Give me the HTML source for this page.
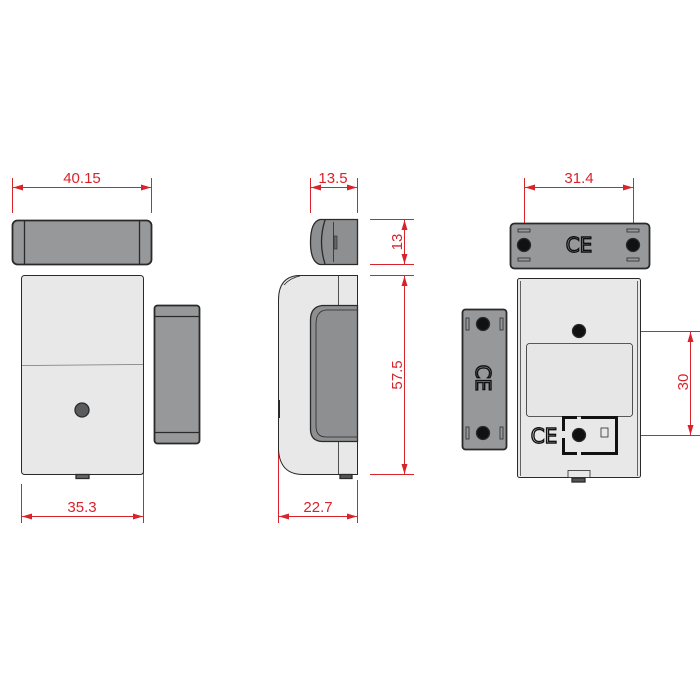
<!DOCTYPE html>
<html><head><style>html,body{margin:0;padding:0;background:#fff}svg{display:block}</style></head>
<body>
<svg width="700" height="700" viewBox="0 0 700 700" xmlns="http://www.w3.org/2000/svg">
<defs>
<marker id="a" viewBox="0 0 10 6" refX="10" refY="3" markerWidth="12" markerHeight="6" markerUnits="userSpaceOnUse" orient="auto-start-reverse"><path d="M0,0L10,3L0,6z" fill="#d9232b"/></marker>
</defs>
<g stroke="#d9232b" stroke-width="1" fill="none">
<line x1="12.5" y1="178" x2="12.5" y2="213"/><line x1="151.5" y1="178" x2="151.5" y2="213"/>
<line x1="13" y1="187.5" x2="151" y2="187.5" marker-start="url(#a)" marker-end="url(#a)"/>
<line x1="21.5" y1="484" x2="21.5" y2="523"/><line x1="143.5" y1="450" x2="143.5" y2="523"/>
<line x1="22" y1="516.5" x2="143" y2="516.5" marker-start="url(#a)" marker-end="url(#a)"/>
<line x1="310.5" y1="178" x2="310.5" y2="213"/><line x1="357.5" y1="178" x2="357.5" y2="213"/>
<line x1="311" y1="187.5" x2="357" y2="187.5" marker-start="url(#a)" marker-end="url(#a)"/>
<line x1="370" y1="219.5" x2="414" y2="219.5"/><line x1="370" y1="264.5" x2="414" y2="264.5"/>
<line x1="404.5" y1="220" x2="404.5" y2="264" marker-start="url(#a)" marker-end="url(#a)"/>
<line x1="370" y1="275.5" x2="414" y2="275.5"/><line x1="370" y1="474.5" x2="414" y2="474.5"/>
<line x1="404.5" y1="276" x2="404.5" y2="474" marker-start="url(#a)" marker-end="url(#a)"/>
<line x1="278.5" y1="398" x2="278.5" y2="523"/><line x1="357.5" y1="480" x2="357.5" y2="523"/>
<line x1="279" y1="516.5" x2="357" y2="516.5" marker-start="url(#a)" marker-end="url(#a)"/>
<line x1="524.5" y1="178" x2="524.5" y2="240"/><line x1="633.5" y1="178" x2="633.5" y2="240"/>
<line x1="525" y1="187.5" x2="633" y2="187.5" marker-start="url(#a)" marker-end="url(#a)"/>
<line x1="579" y1="331.5" x2="700" y2="331.5"/><line x1="579" y1="435.5" x2="700" y2="435.5"/>
<line x1="690.5" y1="332" x2="690.5" y2="435" marker-start="url(#a)" marker-end="url(#a)"/>
</g>
<g fill="#d9232b" font-family="Liberation Sans, sans-serif" font-size="15" text-anchor="middle">
<text x="82" y="183">40.15</text>
<text x="82" y="512">35.3</text>
<text x="333" y="183">13.5</text>
<text x="318" y="512">22.7</text>
<text x="579" y="183">31.4</text>
<text transform="translate(402,242) rotate(-90)">13</text>
<text transform="translate(402,375) rotate(-90)">57.5</text>
<text transform="translate(688,382) rotate(-90)">30</text>
</g>
<g stroke="#2a2a2a" stroke-width="1.3">
<rect x="12.5" y="220.5" width="139" height="44" rx="5" fill="#97989a" stroke-width="1.8"/>
<line x1="24.5" y1="221" x2="24.5" y2="264"/><line x1="139.5" y1="221" x2="139.5" y2="264"/>
<rect x="21.5" y="275.5" width="122" height="199" rx="3" fill="#e8e8e8" stroke-width="1"/>
<line x1="22" y1="365.5" x2="143" y2="364.5" stroke="#777" stroke-width="0.8"/>
<circle cx="82" cy="410" r="7" fill="#5a5b5c"/>
<rect x="76" y="474.5" width="13" height="4" fill="#666"/>
<rect x="154.5" y="305.5" width="45" height="138" rx="3" fill="#97989a" stroke-width="1.8"/>
<line x1="155" y1="316.5" x2="199" y2="316.5"/><line x1="155" y1="432.5" x2="199" y2="432.5"/>
<path d="M357.5,219.5 H320 Q310.5,222 310.5,242 Q310.5,262 320,264.5 H357.5 Z" fill="#8e8f90"/>
<path d="M325,220 Q318,242 325,264" fill="none"/>
<line x1="333.5" y1="222" x2="333.5" y2="262" stroke-width="0.8"/>
<rect x="334" y="236" width="3" height="13" fill="#666" stroke-width="0.6"/>
<path d="M357.5,275.5 H298 Q278.5,277 278.5,300 V450 Q280,474.5 303,474.5 H357.5 Z" fill="#e8e8e8" stroke-width="1"/>
<path d="M284,285 Q290,278 300,276" fill="none" stroke-width="0.8"/>
<line x1="338.5" y1="276" x2="338.5" y2="306" stroke-width="0.8"/>
<line x1="338.5" y1="442" x2="338.5" y2="474" stroke-width="0.8"/>
<path d="M357.5,305.5 H322 Q310.5,307 310.5,320 V430 Q311,441 322,441.5 H357.5 Z" fill="#8e8f90"/>
<path d="M357.5,310 H326 Q316,311 316,324 V426 Q316,437 326,437 H357.5" fill="none" stroke-width="0.8"/>
<rect x="340" y="474.5" width="12" height="4" fill="#555"/>
<line x1="279" y1="400" x2="279" y2="418" stroke-width="2"/>
<rect x="510.5" y="223.5" width="139" height="45" rx="4" fill="#97989a" stroke-width="1.8"/>
<circle cx="524" cy="245" r="6.5" fill="#111"/><circle cx="633" cy="245" r="6.5" fill="#111"/>
<g fill="none" stroke-width="0.8"><rect x="518" y="229" width="12" height="3"/><rect x="518" y="258" width="12" height="3"/><rect x="627" y="229" width="12" height="3"/><rect x="627" y="258" width="12" height="3"/></g>
<rect x="517.5" y="278.5" width="123" height="199" rx="2" fill="#e8e8e8" stroke-width="1"/>
<line x1="520.5" y1="281" x2="520.5" y2="476" stroke-width="0.7"/><line x1="637.5" y1="281" x2="637.5" y2="476" stroke-width="0.7"/>
<circle cx="579" cy="331" r="6.5" fill="#111"/>
<rect x="526.5" y="343.5" width="106" height="73" rx="3" fill="#e6e6e6" stroke-width="0.8"/>
<g stroke="none" fill="#111">
<rect x="562" y="416" width="15" height="3"/><rect x="581" y="416" width="37" height="3"/>
<rect x="562" y="452" width="15" height="3"/><rect x="581" y="452" width="37" height="3"/>
<rect x="562" y="416" width="3" height="15"/><rect x="562" y="438" width="3" height="17"/>
<rect x="615" y="416" width="3" height="39"/>
</g>
<circle cx="579" cy="435" r="6.5" fill="#111"/>
<rect x="601" y="428" width="7" height="9" fill="#e8e8e8" stroke-width="0.8"/>
<rect x="568" y="470.5" width="22" height="7" fill="#e8e8e8" stroke-width="0.8"/>
<rect x="572" y="478" width="13" height="4" fill="#555"/>
<rect x="462.5" y="309.5" width="44" height="140" rx="3" fill="#97989a" stroke-width="1.8"/>
<circle cx="483" cy="324" r="6.5" fill="#111"/><circle cx="483" cy="433" r="6.5" fill="#111"/>
<g fill="none" stroke-width="0.8"><rect x="466" y="318" width="3" height="12"/><rect x="500" y="318" width="3" height="12"/><rect x="466" y="427" width="3" height="12"/><rect x="500" y="427" width="3" height="12"/></g>
</g>
<g fill="none" stroke="#111" stroke-width="1.4" font-family="DejaVu Sans, sans-serif" font-size="20" text-anchor="middle">
<text x="579" y="252">CE</text>
<text x="544" y="443">CE</text>
<text transform="translate(476,378) rotate(90)">CE</text>
</g>
</svg>
</body></html>
